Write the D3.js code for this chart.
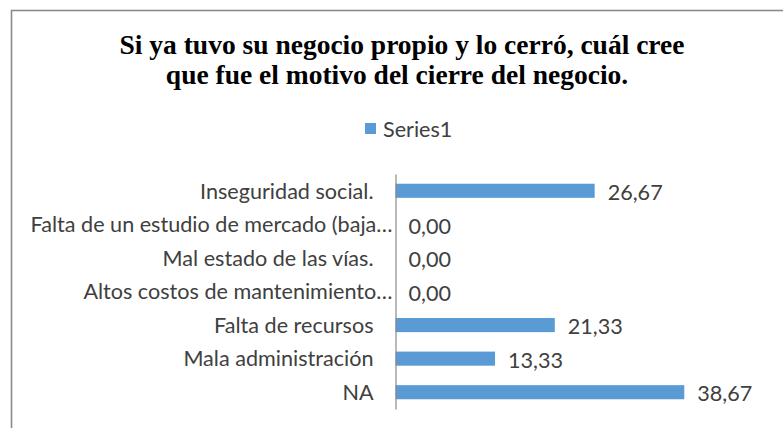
<!DOCTYPE html>
<html>
<head>
<meta charset="utf-8">
<script src="https://cdn.jsdelivr.net/npm/d3@7"></script>
<style>
  html, body { margin: 0; padding: 0; background: #fff; }
  svg { display: block; }
</style>
</head>
<body>
<svg id="chart" width="783" height="428"></svg>
<script>
const titleLines = ["Si ya tuvo su negocio propio y lo cerró, cuál cree", "que fue el motivo del cierre del negocio."];
const seriesName = "Series1";
const categories = [
  "Inseguridad social.",
  "Falta de un estudio de mercado (baja…",
  "Mal estado de las vías.",
  "Altos costos de mantenimiento…",
  "Falta de recursos",
  "Mala administración",
  "NA"
];
const values = [26.67, 0.00, 0.00, 0.00, 21.33, 13.33, 38.67];
const xDomain = [0, 45];

const svg = d3.select("#chart");
const W = 783, H = 428;
const barColor = "#5B9BD5";
const labelFont = "Lato, 'Open Sans', sans-serif";
const fs = 21.6;

svg.append("rect").attr("width", W).attr("height", H).attr("fill", "#fff");
// chart border (extends beyond the view on right & bottom)
svg.append("rect")
  .attr("x", 11.5).attr("y", 10.5)
  .attr("width", W + 20).attr("height", H + 20)
  .attr("fill", "none").attr("stroke", "#8a8a8a").attr("stroke-width", 1.6);

// Title
svg.append("g").selectAll("text").data(titleLines).join("text")
  .attr("x", (d, i) => i === 0 ? 402 : 397)
  .attr("y", (d, i) => 54 + i * 30)
  .attr("text-anchor", "middle")
  .attr("font-family", "'Liberation Serif', 'Times New Roman', serif")
  .attr("font-weight", "bold")
  .attr("font-size", 27.5)
  .attr("fill", "#000")
  .text(d => d);

// Legend
const lg = svg.append("g");
lg.append("rect").attr("x", 365).attr("y", 123).attr("width", 11).attr("height", 11).attr("fill", barColor);
lg.append("text").attr("x", 383).attr("y", 136.5)
  .attr("font-family", labelFont).attr("font-size", fs).attr("fill", "#404040")
  .text(seriesName);

// Scales
const y = d3.scaleBand().domain(categories).range([174, 409]).paddingInner(0.58).paddingOuter(0.29);
const x = d3.scaleLinear().domain(xDomain).range([395.5, 395.5 + 45 * 7.468]);

// Bars
svg.append("g").selectAll("rect").data(values).join("rect")
  .attr("x", x(0))
  .attr("y", (d, i) => y(categories[i]))
  .attr("width", d => x(d) - x(0))
  .attr("height", y.bandwidth())
  .attr("fill", barColor);

// Axis (category)
const axis = d3.axisLeft(y).tickSize(0).tickPadding(0).tickFormat(d => d);
const ag = svg.append("g").attr("transform", `translate(${x(0)},0)`).call(axis);
ag.select(".domain").attr("stroke", "#8a8a8a").attr("stroke-width", 1.2);
ag.selectAll(".tick text")
  .attr("font-family", labelFont).attr("font-size", fs).attr("fill", "#404040")
  .attr("x", d => d.endsWith("…") ? -3 : -22)
  .attr("dy", "0.36em");

// Value labels
svg.append("g").selectAll("text").data(values).join("text")
  .attr("x", d => x(d) + 13)
  .attr("y", (d, i) => y(categories[i]) + y.bandwidth() / 2 + 1.5)
  .attr("dy", "0.36em")
  .attr("font-family", labelFont).attr("font-size", fs).attr("fill", "#404040")
  .text(d => d.toFixed(2).replace(".", ","));
</script>
</body>
</html>
